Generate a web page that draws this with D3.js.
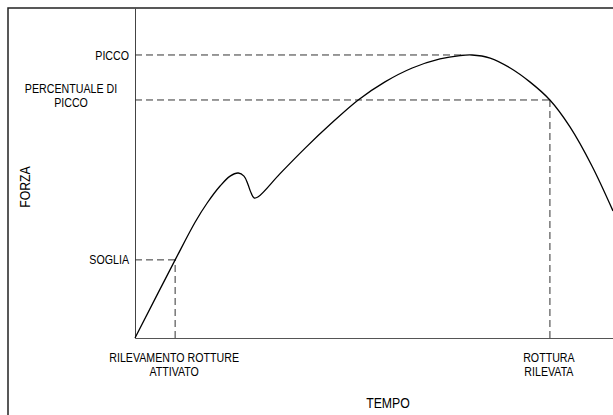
<!DOCTYPE html>
<html>
<head>
<meta charset="utf-8">
<script src="https://cdn.jsdelivr.net/npm/d3@7"></script>
<style>
  body { margin: 0; background: #fff; }
  text { font-family: "Liberation Sans", Arial, sans-serif; fill: #000; }
</style>
</head>
<body>
<svg></svg>
<script>
// curve: tempo (0-100) vs forza (picco = 100)
var tempo = [0, 8.4, 12.6, 15.1, 17.8, 19.9, 21.6, 22.8, 23.6, 24.3, 24.9, 25.7, 30.3, 35.6, 40.8, 46.7, 52.3, 58.0, 63.8, 68.0, 70.5, 74.3, 78.5, 82.6, 86.8, 91.0, 95.6, 100];
var forza = [0, 27.6, 41.0, 47.7, 53.7, 57.2, 58.3, 57.2, 54.4, 51.2, 49.5, 49.8, 58.0, 67.1, 75.4, 84.1, 90.5, 95.4, 98.6, 99.8, 100, 98.9, 95.4, 90.5, 84.1, 74.6, 60.8, 44.9];

// reference levels on the force axis
var yLabels = [["PICCO"], ["PERCENTUALE DI", "PICCO"], ["SOGLIA"]];
var yLevels = [100, 84.1, 27.6];
var yLevelEnds = [68.6, 86.8, 8.4];   // where the dashed line meets the curve

// events on the time axis
var xLabels = [["RILEVAMENTO ROTTURE", "ATTIVATO"], ["ROTTURA", "RILEVATA"]];
var xEvents = [8.4, 86.8];
var xEventForza = [27.6, 84.1];

var width = 613, height = 415;

var svg = d3.select("svg")
            .attr("width", width)
            .attr("height", height);

var xScale = d3.scaleLinear().domain([0, 100]).range([135, 613]);
var yScale = d3.scaleLinear().domain([0, 116.6]).range([338, 8]);

// narrow labels: no narrow font installed, so squeeze Liberation Sans
function label(x, y, lines, anchor, size, rotate) {
  var g = svg.append("g")
     .attr("transform", "translate(" + x + "," + y + ")" + (rotate ? " rotate(-90)" : "") + " scale(0.82,1)");
  var t = g.append("text")
     .attr("font-size", size + "px")
     .attr("text-anchor", anchor);
  lines.forEach(function(s, j) {
    t.append("tspan")
     .attr("x", 0)
     .attr("y", j * 14)
     .attr("dy", "0.35em")
     .text(s);
  });
}

// outer frame (cropped on the right and bottom)
svg.append("rect")
   .attr("x", 8).attr("y", 8)
   .attr("width", 700).attr("height", 500)
   .attr("fill", "none")
   .attr("stroke", "#222")
   .attr("stroke-width", 1.5);

// axes without ticks
svg.append("g")
   .attr("transform", "translate(" + xScale(0) + ",0)")
   .call(d3.axisLeft(yScale).tickValues([]).tickSizeOuter(0))
   .select(".domain").attr("stroke", "#444");

svg.append("g")
   .attr("transform", "translate(0," + yScale(0) + ")")
   .call(d3.axisBottom(xScale).tickValues([]).tickSizeOuter(0))
   .select(".domain").attr("stroke", "#555");

// dashed guide lines
var dash = "7,4";
yLevels.forEach(function(v, i) {
  svg.append("line")
     .attr("x1", xScale(0)).attr("x2", xScale(yLevelEnds[i]))
     .attr("y1", yScale(v)).attr("y2", yScale(v))
     .attr("stroke", "#333").attr("stroke-width", 1)
     .attr("stroke-dasharray", dash);
});
xEvents.forEach(function(v, i) {
  svg.append("line")
     .attr("x1", xScale(v)).attr("x2", xScale(v))
     .attr("y1", yScale(0)).attr("y2", yScale(xEventForza[i]))
     .attr("stroke", "#555").attr("stroke-width", 1.2)
     .attr("stroke-dasharray", dash);
});

// force curve
var pts = tempo.map(function(t, i) { return [t, forza[i]]; });
var line = d3.line()
             .x(d => xScale(d[0]))
             .y(d => yScale(d[1]))
             .curve(d3.curveCatmullRom.alpha(0.5));

svg.append("path")
   .datum(pts)
   .attr("d", line)
   .attr("fill", "none")
   .attr("stroke", "#000")
   .attr("stroke-width", 1.3);

// level labels
yLabels.forEach(function(lines, i) {
  var y = yScale(yLevels[i]);
  if (lines.length > 1) label(71, y - 12, lines, "middle", 13);
  else label(129, y, lines, "end", 13);
});

// event labels
xLabels.forEach(function(lines, i) {
  label(xScale(xEvents[i]) - 1, 357, lines, "middle", 13);
});

// axis titles
label(388, 403, ["TEMPO"], "middle", 15);
label(25, 187, ["FORZA"], "middle", 15, true);
</script>
</body>
</html>
